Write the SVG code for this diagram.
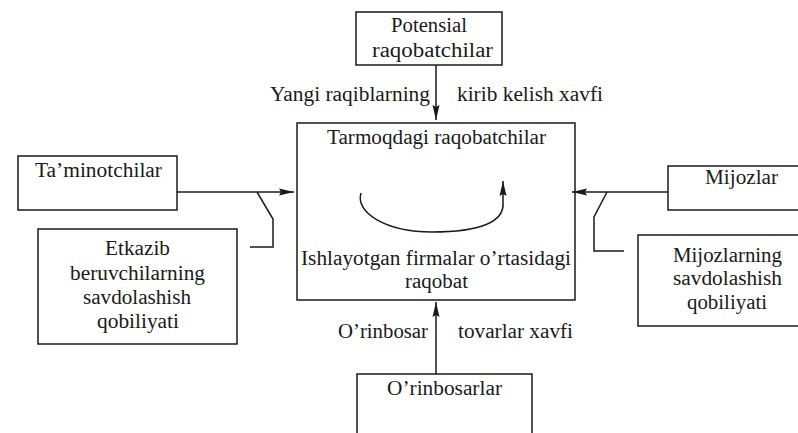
<svg xmlns="http://www.w3.org/2000/svg" width="798" height="433" viewBox="0 0 798 433">
<style>
.box{fill:#fff;stroke:#1a1a1a;stroke-width:1.5}
.ln{fill:none;stroke:#1a1a1a;stroke-width:1.5}
.t{font-family:"Liberation Serif","Times New Roman",serif;font-size:20px;fill:#1a1a1a}
</style>
<defs>
<marker id="ah" viewBox="0 0 15 8" refX="15" refY="4" markerWidth="15" markerHeight="8" markerUnits="userSpaceOnUse" orient="auto">
<path d="M0,0.5 L15,4 L0,7.5 L2,4 z" fill="#1a1a1a"/>
</marker>
</defs>
<rect width="798" height="433" fill="#fff"/>
<g id="main">
<rect class="box" x="297" y="123" width="278" height="177"/>
<text class="t" x="327" y="144" textLength="219" lengthAdjust="spacingAndGlyphs">Tarmoqdagi raqobatchilar</text>
<text class="t" x="301" y="265" textLength="270" lengthAdjust="spacingAndGlyphs">Ishlayotgan firmalar o’rtasidagi</text>
<text class="t" x="405" y="288" textLength="63" lengthAdjust="spacingAndGlyphs">raqobat</text>
<path class="ln" d="M361,193 C355,212 385,232 432,232 C480,232 505,222 503,202 L503,181" marker-end="url(#ah)"/>
</g>
<g id="potensial">
<rect class="box" x="356" y="12" width="146" height="53"/>
<text class="t" x="391" y="32" textLength="76" lengthAdjust="spacingAndGlyphs">Potensial</text>
<text class="t" x="372" y="57" textLength="121" lengthAdjust="spacingAndGlyphs">raqobatchilar</text>
</g>
<g id="taminotchilar">
<rect class="box" x="18" y="156" width="159" height="54"/>
<text class="t" x="35" y="177" textLength="127" lengthAdjust="spacingAndGlyphs">Ta’minotchilar</text>
</g>
<g id="etkazib">
<rect class="box" x="38" y="229" width="199" height="115"/>
<text class="t" x="105" y="255" textLength="65" lengthAdjust="spacingAndGlyphs">Etkazib</text>
<text class="t" x="70" y="279.5" textLength="135" lengthAdjust="spacingAndGlyphs">beruvchilarning</text>
<text class="t" x="83" y="304" textLength="108" lengthAdjust="spacingAndGlyphs">savdolashish</text>
<text class="t" x="97" y="328" textLength="82" lengthAdjust="spacingAndGlyphs">qobiliyati</text>
</g>
<g id="mijozlar">
<rect class="box" x="668" y="166" width="150" height="44"/>
<text class="t" x="705" y="184" textLength="73" lengthAdjust="spacingAndGlyphs">Mijozlar</text>
</g>
<g id="mijozlarning">
<rect class="box" x="638" y="235" width="180" height="91"/>
<text class="t" x="673" y="261.5" textLength="109" lengthAdjust="spacingAndGlyphs">Mijozlarning</text>
<text class="t" x="673" y="285" textLength="109" lengthAdjust="spacingAndGlyphs">savdolashish</text>
<text class="t" x="687" y="308.5" textLength="80" lengthAdjust="spacingAndGlyphs">qobiliyati</text>
</g>
<g id="orinbosarlar">
<rect class="box" x="357" y="374" width="175" height="70"/>
<text class="t" x="387" y="394.5" textLength="115" lengthAdjust="spacingAndGlyphs">O’rinbosarlar</text>
</g>
<g id="connectors">
<line class="ln" x1="436" y1="65" x2="436" y2="120" marker-end="url(#ah)"/>
<text class="t" x="270" y="101" textLength="160" lengthAdjust="spacingAndGlyphs">Yangi raqiblarning</text>
<text class="t" x="457" y="101" textLength="146" lengthAdjust="spacingAndGlyphs">kirib kelish xavfi</text>
<line class="ln" x1="177" y1="192" x2="294" y2="192" marker-end="url(#ah)"/>
<path class="ln" d="M257,192 L273,219 L273,247 L250,247"/>
<line class="ln" x1="668" y1="192" x2="572" y2="192" marker-end="url(#ah)"/>
<path class="ln" d="M607,192 L594,217 L594,251 L624,251"/>
<line class="ln" x1="436" y1="374" x2="436" y2="302" marker-end="url(#ah)"/>
<text class="t" x="338" y="338" textLength="90" lengthAdjust="spacingAndGlyphs">O’rinbosar</text>
<text class="t" x="458" y="338" textLength="115" lengthAdjust="spacingAndGlyphs">tovarlar xavfi</text>
</g>
</svg>
